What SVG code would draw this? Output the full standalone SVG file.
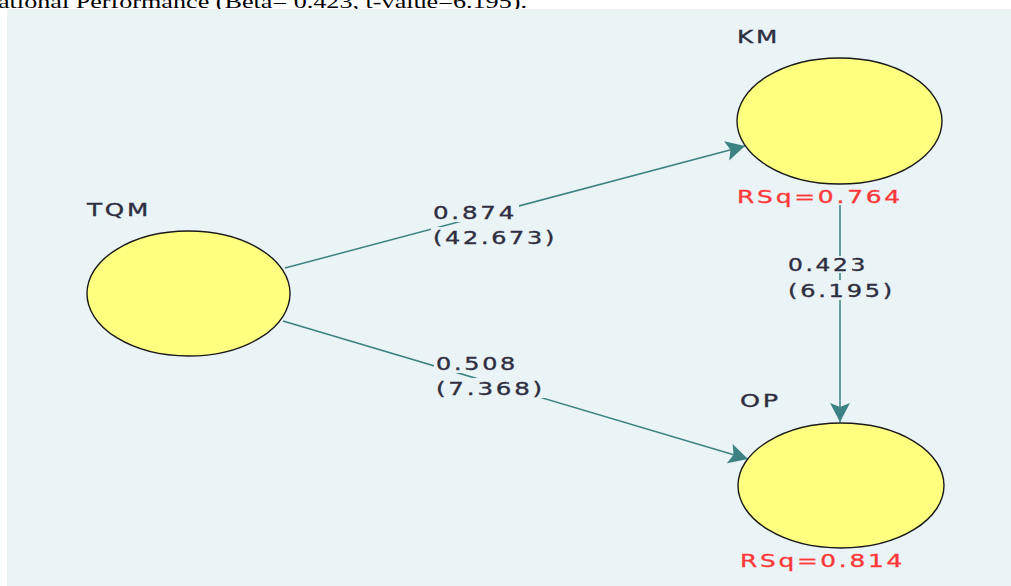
<svg xmlns="http://www.w3.org/2000/svg" width="1011" height="586" viewBox="0 0 1011 586">
<defs>
<marker id="arr" viewBox="-19 -11 21 22" refX="0" refY="0" markerWidth="21" markerHeight="22" markerUnits="userSpaceOnUse" orient="auto">
<path d="M0,0 L-19,-10 L-15,0 L-19,10 Z" fill="#3d8282"/>
</marker>
<style>
.bg{fill:#eaf3f5}
.node{fill:#ffff80;stroke:#1a1a1a;stroke-width:1.4}
.name{font-family:"DejaVu Sans",Verdana,sans-serif;font-size:18px;letter-spacing:2px;fill:#2e2e40;stroke:#2e2e40;stroke-width:0.35}
.lbl{font-family:"DejaVu Sans",Verdana,sans-serif;font-size:17.5px;letter-spacing:2px;fill:#2e2e40;stroke:#2e2e40;stroke-width:0.35}
.rsq{font-family:"DejaVu Sans",Verdana,sans-serif;font-size:18px;letter-spacing:2px;fill:#ff3838;stroke:#ff3838;stroke-width:0.35}
.edge{stroke:#3d8282;stroke-width:1.5;fill:none}
.cap{font-family:"Liberation Serif","Times New Roman",serif;font-size:19px;fill:#000}
</style>
</defs>
<rect width="1011" height="586" fill="#ffffff"/>
<text class="cap" x="-2" y="8" textLength="529" lengthAdjust="spacingAndGlyphs">ational Performance (Beta= 0.423, t-value=6.195).</text>
<rect class="bg" x="7" y="9" width="1004" height="577"/>
<g id="connectors">
<line class="edge" x1="285" y1="268" x2="745" y2="146" marker-end="url(#arr)"/>
<line class="edge" x1="283" y1="321" x2="748" y2="459" marker-end="url(#arr)"/>
<line class="edge" x1="840" y1="205" x2="840" y2="422" stroke-width="2" marker-end="url(#arr)"/>
<g id="edge-labels">
<rect class="bg" x="431" y="204" width="88" height="18"/>
<rect class="bg" x="431" y="227" width="128" height="20"/>
<text class="lbl" x="433" y="219" textLength="84" lengthAdjust="spacingAndGlyphs">0.874</text>
<text class="lbl" x="433" y="244" textLength="124" lengthAdjust="spacingAndGlyphs">(42.673)</text>
<rect class="bg" x="786" y="256" width="84" height="17"/>
<rect class="bg" x="786" y="280" width="111" height="20"/>
<text class="lbl" x="788" y="271" textLength="80" lengthAdjust="spacingAndGlyphs">0.423</text>
<text class="lbl" x="788" y="297" textLength="107" lengthAdjust="spacingAndGlyphs">(6.195)</text>
<rect class="bg" x="434" y="355" width="86" height="18"/>
<rect class="bg" x="434" y="378" width="113" height="20"/>
<text class="lbl" x="436" y="370" textLength="82" lengthAdjust="spacingAndGlyphs">0.508</text>
<text class="lbl" x="436" y="395" textLength="109" lengthAdjust="spacingAndGlyphs">(7.368)</text>
</g>
</g>
<g id="TQM">
<ellipse class="node" cx="188.5" cy="293.5" rx="101.5" ry="62.5"/>
<text class="name" x="87" y="216" textLength="64" lengthAdjust="spacingAndGlyphs">TQM</text>
</g>
<g id="KM">
<ellipse class="node" cx="839.5" cy="121" rx="102.5" ry="63"/>
<text class="name" x="737" y="43" textLength="43" lengthAdjust="spacingAndGlyphs">KM</text>
<text class="rsq" x="737" y="203" textLength="166" lengthAdjust="spacingAndGlyphs">RSq=0.764</text>
</g>
<g id="OP">
<ellipse class="node" cx="841" cy="485.5" rx="103" ry="62.5"/>
<text class="name" x="740" y="407" textLength="41" lengthAdjust="spacingAndGlyphs">OP</text>
<text class="rsq" x="740" y="567" textLength="165" lengthAdjust="spacingAndGlyphs">RSq=0.814</text>
</g>
</svg>
